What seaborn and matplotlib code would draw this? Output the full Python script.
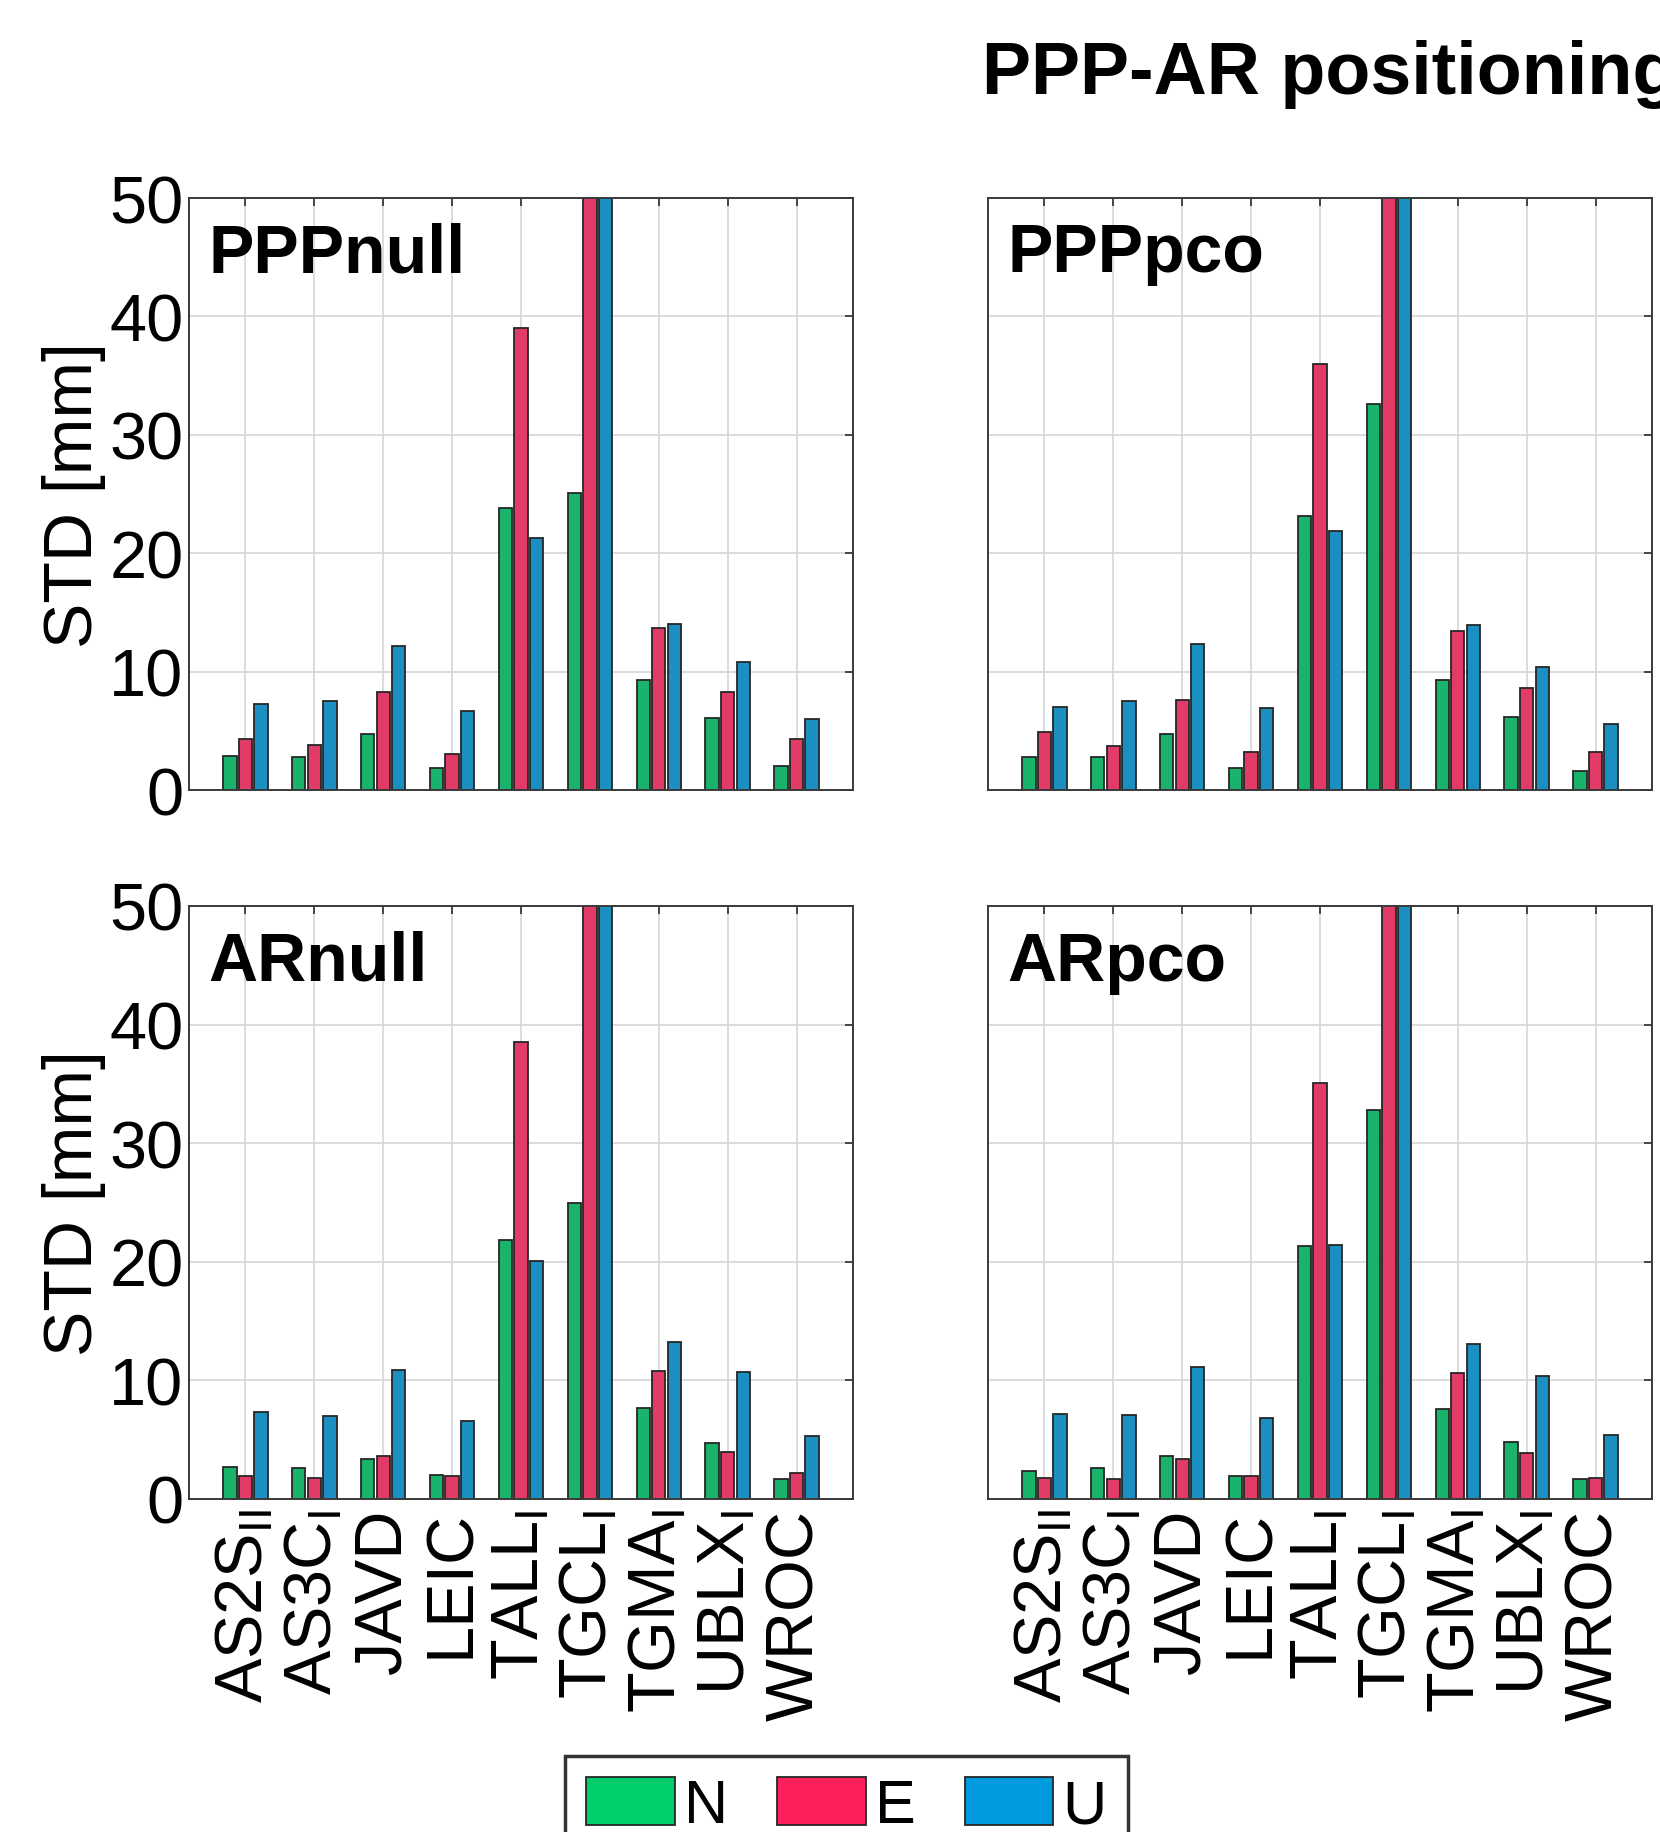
import numpy as np
import pandas as pd
import matplotlib
matplotlib.use('Agg')
import matplotlib.pyplot as plt
from matplotlib.patches import Patch
import seaborn as sns

stations = [r'AS2S$_{II}$', r'AS3C$_{I}$', 'JAVD', 'LEIC', r'TALL$_{I}$',
            r'TGCL$_{I}$', r'TGMA$_{I}$', r'UBLX$_{I}$', 'WROC']
components = ['N', 'E', 'U']
colors = ['#00CD6C', '#FF1F5B', '#009ADE']

# STD in mm; TGCL E/U run past the top of the axes (clipped at 50)
pppnull_n = [2.9, 2.8, 4.7, 1.9, 23.8, 25.1, 9.3, 6.1, 2.0]
pppnull_e = [4.3, 3.8, 8.3, 3.0, 39.0, 60.0, 13.7, 8.3, 4.3]
pppnull_u = [7.3, 7.5, 12.2, 6.7, 21.3, 60.0, 14.0, 10.8, 6.0]

ppppco_n = [2.8, 2.8, 4.7, 1.9, 23.1, 32.6, 9.3, 6.2, 1.6]
ppppco_e = [4.9, 3.7, 7.6, 3.2, 36.0, 60.0, 13.4, 8.6, 3.2]
ppppco_u = [7.0, 7.5, 12.3, 6.9, 21.9, 60.0, 13.9, 10.4, 5.6]

arnull_n = [2.7, 2.6, 3.4, 2.0, 21.8, 25.0, 7.7, 4.7, 1.7]
arnull_e = [1.9, 1.8, 3.6, 1.9, 38.5, 60.0, 10.8, 4.0, 2.2]
arnull_u = [7.3, 7.0, 10.9, 6.6, 20.1, 60.0, 13.2, 10.7, 5.3]

arpco_n = [2.4, 2.6, 3.6, 1.9, 21.3, 32.8, 7.6, 4.8, 1.7]
arpco_e = [1.8, 1.7, 3.4, 1.9, 35.1, 60.0, 10.6, 3.9, 1.8]
arpco_u = [7.2, 7.1, 11.1, 6.8, 21.4, 60.0, 13.1, 10.4, 5.4]

panels = [
    ('PPPnull', pppnull_n, pppnull_e, pppnull_u),
    ('PPPpco', ppppco_n, ppppco_e, ppppco_u),
    ('ARnull', arnull_n, arnull_e, arnull_u),
    ('ARpco', arpco_n, arpco_e, arpco_u),
]


def panel_frame(n, e, u):
    return pd.DataFrame({
        'station': stations * 3,
        'comp': ['N'] * len(n) + ['E'] * len(e) + ['U'] * len(u),
        'std': n + e + u,
    })


sns.set_style('white')
plt.rcParams['font.family'] = ['Liberation Sans', 'DejaVu Sans']
plt.rcParams['mathtext.fontset'] = 'custom'
plt.rcParams['mathtext.rm'] = 'Liberation Sans'
plt.rcParams['mathtext.default'] = 'regular'
plt.rcParams['text.color'] = 'black'
plt.rcParams['axes.labelcolor'] = 'black'
plt.rcParams['xtick.labelcolor'] = 'black'
plt.rcParams['ytick.labelcolor'] = 'black'

fig = plt.figure(figsize=(16.6, 18.33), dpi=100)

# axes boxes in figure fractions (left, bottom, width, height)
W, H = 1660.0, 1833.0
boxes = [
    (189 / W, 1 - 791 / H, 664 / W, 592 / H),
    (988 / W, 1 - 791 / H, 664 / W, 592 / H),
    (189 / W, 1 - 1500 / H, 664 / W, 593 / H),
    (988 / W, 1 - 1500 / H, 664 / W, 593 / H),
]

spine_col = '#3a3a3a'
for i, (name, n, e, u) in enumerate(panels):
    ax = fig.add_axes(boxes[i])
    df = panel_frame(n, e, u)
    sns.barplot(data=df, x='station', y='std', hue='comp',
                hue_order=components, palette=colors, width=0.68, gap=0.15,
                edgecolor='#262626', linewidth=1.3, errorbar=None,
                legend=False, ax=ax)
    ax.set_xlim(-0.82, 8.82)
    ax.set_ylim(0, 50)
    ax.set_yticks(np.arange(0, 51, 10))
    ax.set_axisbelow(True)
    ax.grid(True, color='#d6d6d6', linewidth=1.2)
    for sp in ax.spines.values():
        sp.set_visible(True)
        sp.set_color(spine_col)
        sp.set_linewidth(1.4)
    ax.tick_params(direction='in', top=True, right=True, length=6,
                   width=1.3, color=spine_col, labelsize=48, pad=4)
    ax.tick_params(axis='x', rotation=90, pad=7)
    ax.set_xlabel('')
    if i % 2 == 0:
        ax.set_ylabel('STD [mm]', fontsize=49, labelpad=2)
    else:
        ax.set_ylabel('')
        ax.tick_params(axis='y', labelleft=False)
    if i < 2:
        ax.tick_params(axis='x', labelbottom=False)
    ax.text(0.029, 0.876, name, transform=ax.transAxes, fontsize=49,
            fontweight='bold', va='baseline', ha='left')

fig.text(982 / W, 1 - 94 / H, 'PPP-AR positioning', fontsize=53,
         fontweight='bold', va='baseline', ha='left')

handles = [Patch(facecolor=c, edgecolor='#262626', linewidth=1.3) for c in colors]
leg = fig.legend(handles, components, loc='upper left',
                 bbox_to_anchor=(565 / W, 1 - 1757 / H), ncol=3, fontsize=44,
                 frameon=True, fancybox=False, edgecolor='black',
                 handlelength=1.45, handleheight=0.82, handletextpad=0.15,
                 columnspacing=0.8, borderpad=0.35, borderaxespad=0)
leg.get_frame().set_linewidth(2.5)

fig.savefig('out.png', dpi=100)
